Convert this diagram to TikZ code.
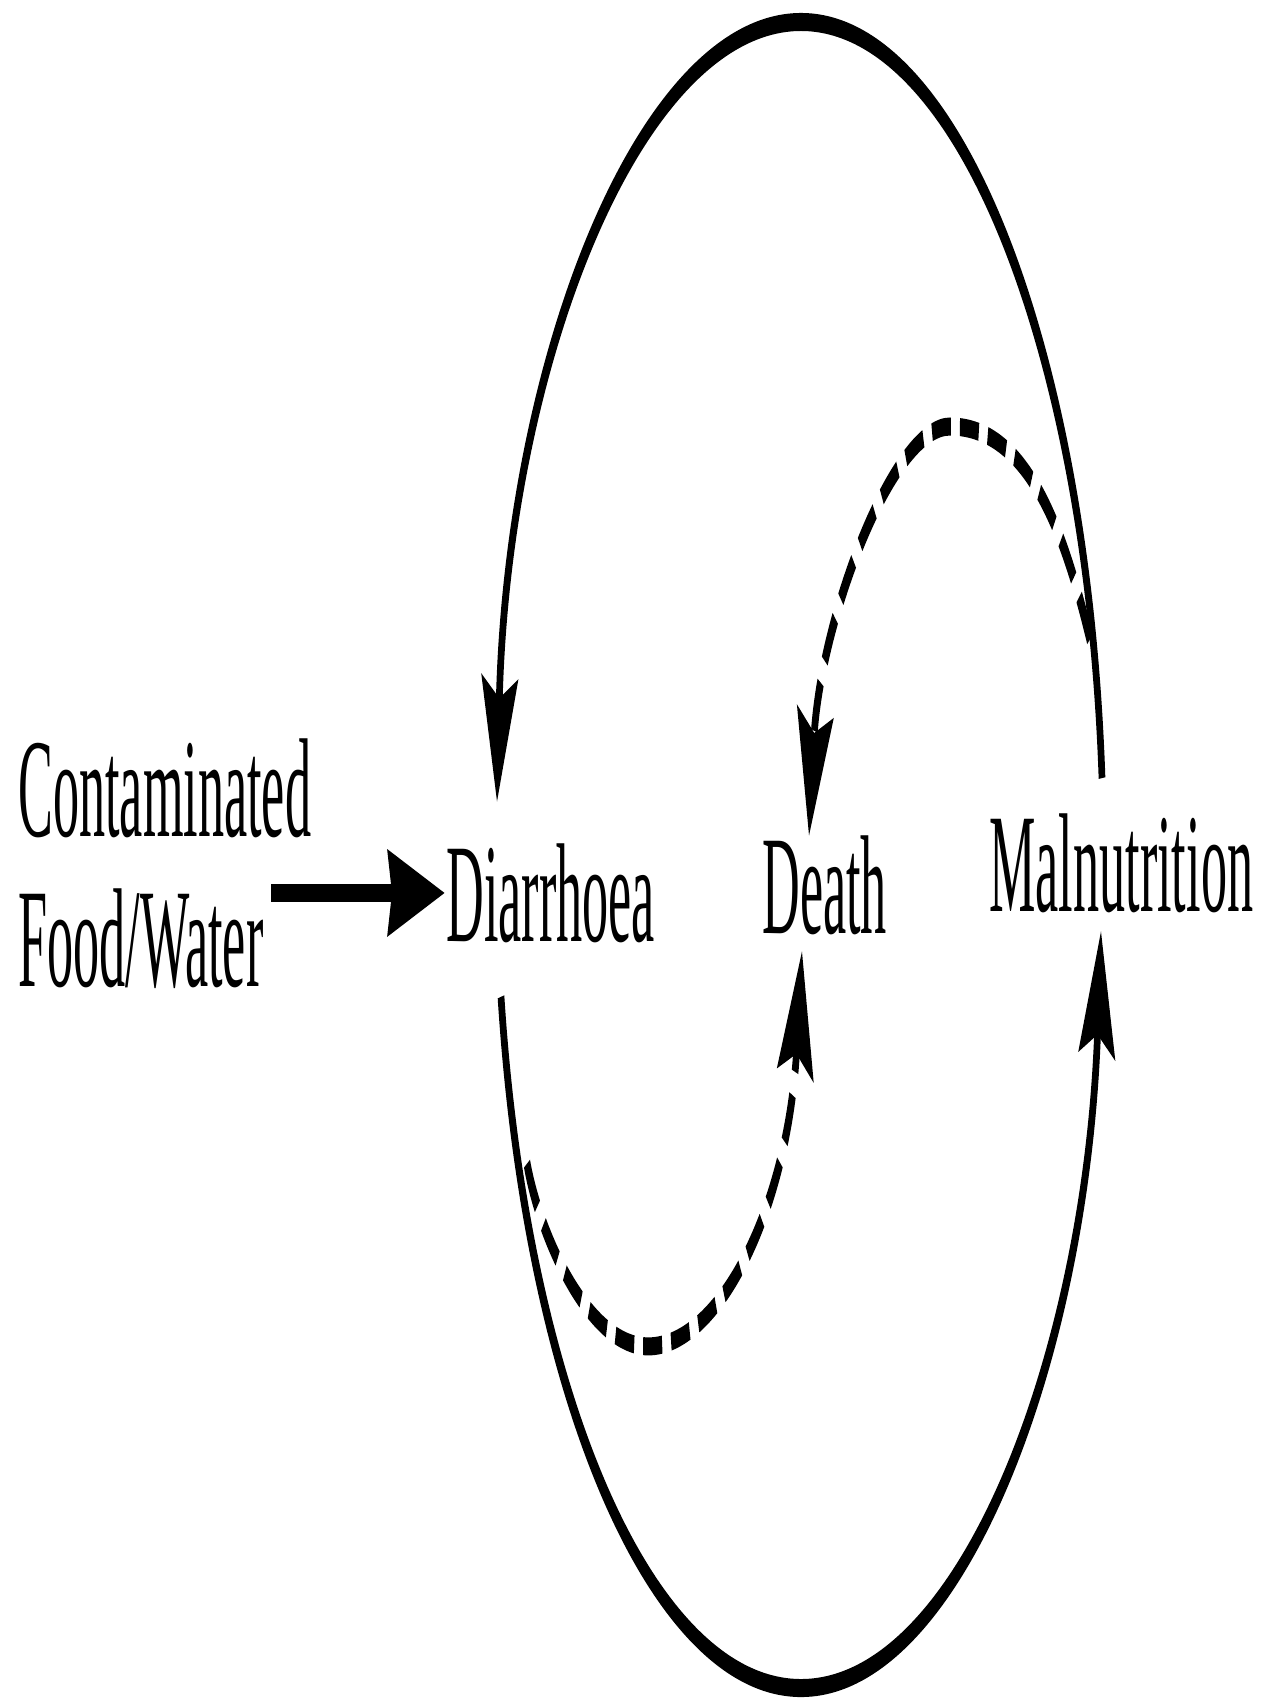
\documentclass[tikz,border=0pt]{standalone}
\usepackage{fontspec}
\setmainfont{Liberation Serif}
\usetikzlibrary{arrows.meta,calc}
\begin{document}
\begin{tikzpicture}[x=0.02cm,y=-0.02cm]
\path[fill=white, use as bounding box] (0,0) rectangle (1264,1705);
\begin{scope}[y=-0.0074074cm, transform canvas={yscale=2.7},
  lbl/.style={anchor=base west, inner sep=0pt, font=\fontsize{29.7pt}{31.7pt}\selectfont},
  link/.style={line width=3.8pt},
  dlink/.style={line width=3.8pt, dash pattern=on 0.38cm off 0.18cm},
  hd/.style={-{Stealth[length=0.92cm,width=0.72cm,inset=0.15cm]}}]
% labels
\node[lbl] (src1) at (18,837) {Contaminated};
\node[lbl] (src2) at (18,988) {Food/Water};
\node[lbl] (dia) at (446,943) {Diarrhoea};
\node[lbl] (death) at (762,935) {Death};
\node[lbl] (mal) at (989,913) {Malnutrition};
% contaminated food/water -> diarrhoea
\draw[line width=3.8pt, -{Stealth[length=1.14cm,width=0.62cm,inset=0.08cm]}]
  ($(src2.base west)+(253,-94)$) -- ($(dia.base west)+(-1,-49)$);
% malnutrition -> diarrhoea (upper outer arc)
\draw[link, hd] ($(mal.base west)+(113,-134)$)
  .. controls (1087.4,350) and (958.6,22) .. (801,22)
  .. controls (640.1,22) and (506.8,363.9) .. ($(dia.base west)+(51,-140)$);
% diarrhoea -> malnutrition (lower outer arc)
\draw[link, hd] ($(dia.base west)+(55,55)$)
  .. controls (526.3,1397.9) and (652.6,1690) .. (801,1690)
  .. controls (958.7,1690) and (1086.6,1361.4) .. ($(mal.base west)+(112,19)$);
% malnutrition -> death (dashed)
\draw[dlink, hd] ($(mal.base west)+(101,-273)$)
  .. controls (1066,540) and (1030,427) .. (950,427)
  .. controls (893,427) and (820,620) .. ($(death.base west)+(47,-98)$);
% diarrhoea -> death (dashed)
\draw[dlink, hd] ($(dia.base west)+(81,222)$)
  .. controls (540,1240) and (590,1348) .. (648,1348)
  .. controls (718,1348) and (788,1212) .. ($(death.base west)+(40,17)$);
\end{scope}
\end{tikzpicture}
\end{document}
